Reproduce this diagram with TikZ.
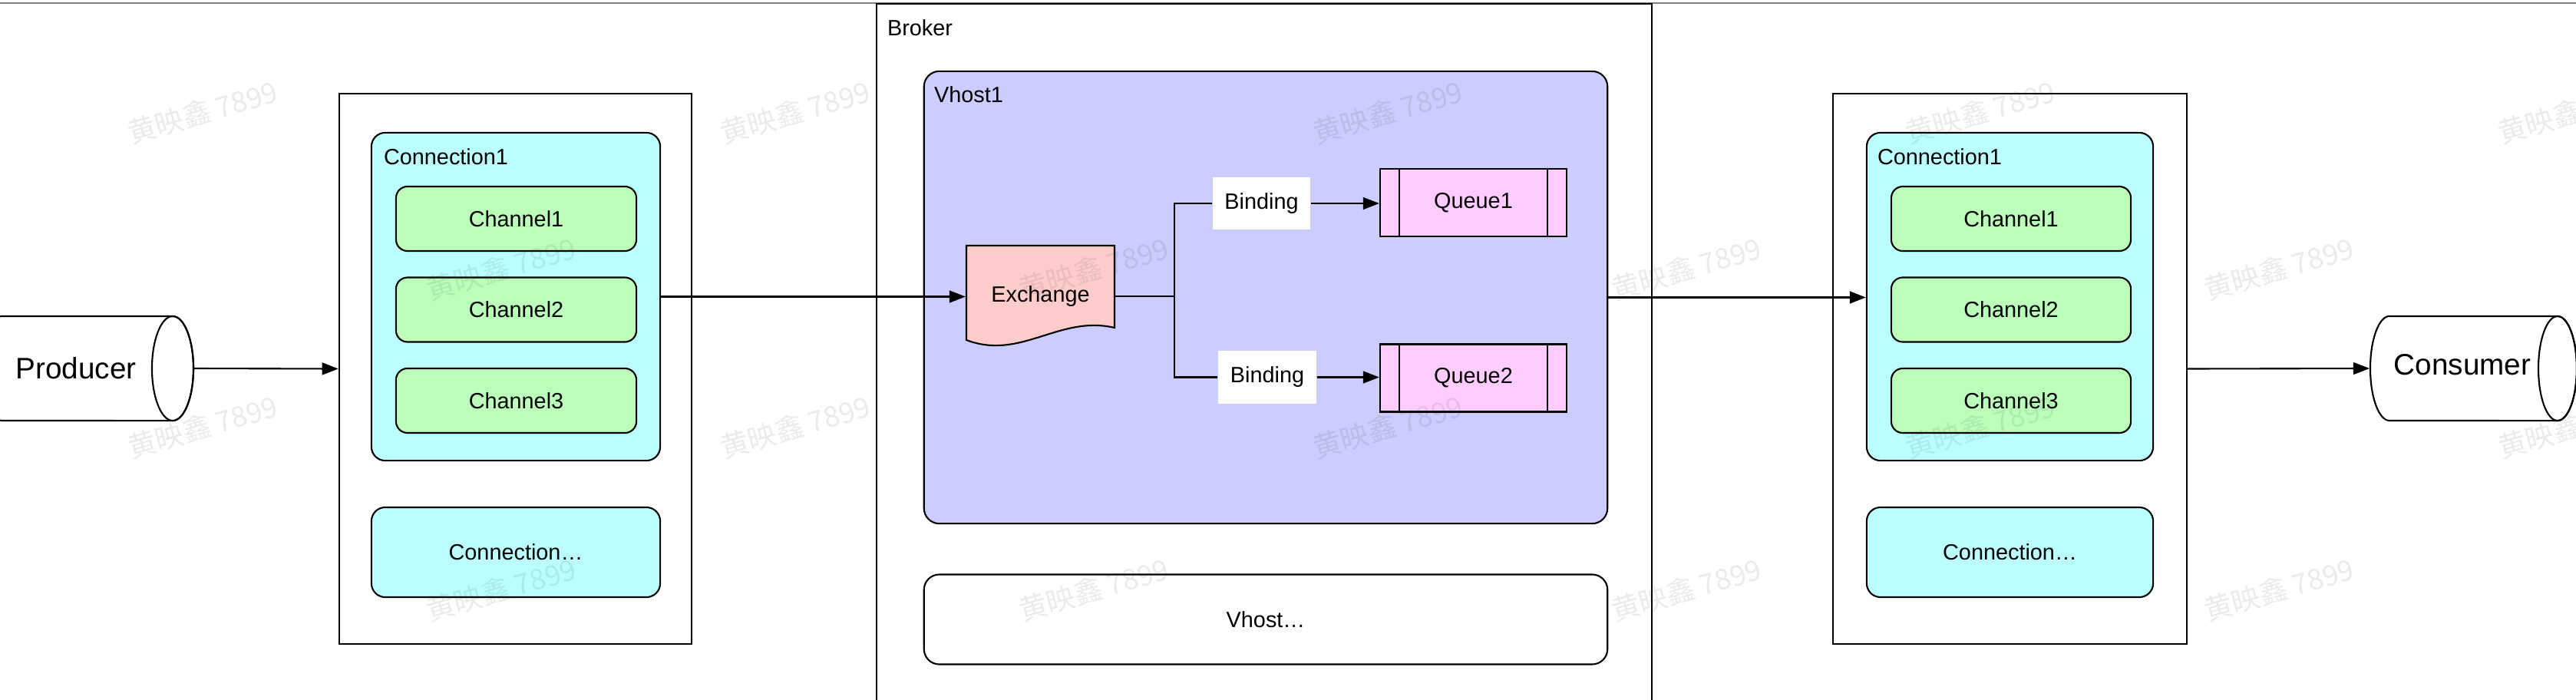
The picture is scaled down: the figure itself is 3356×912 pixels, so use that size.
\documentclass[tikz,border=0pt]{standalone}
\usepackage{fontspec}
\setmainfont{Liberation Sans}
\newfontfamily\cjk{Noto Sans CJK SC}
\usepackage{xcolor}
\usepackage{tikz}
\usetikzlibrary{arrows.meta}

\definecolor{connfill}{RGB}{187,255,255}
\definecolor{chanfill}{RGB}{187,255,187}
\definecolor{vhostfill}{RGB}{204,204,255}
\definecolor{exchfill}{RGB}{255,204,204}
\definecolor{queuefill}{RGB}{255,204,255}

\begin{document}
\begin{tikzpicture}[x=0.01cm, y=-0.01cm, line width=0.6pt,
  >={Triangle[length=6pt,width=4.5pt]},
  font=\fontsize{8.2}{10}\selectfont,
  box/.style={draw, rectangle, inner sep=0pt},
  conn/.style={box, fill=connfill, rounded corners=0.18cm},
  chan/.style={box, fill=chanfill, rounded corners=0.15cm, minimum height=0.84cm},
  bind/.style={fill=white, inner sep=0pt, minimum width=1.27cm, minimum height=0.68cm},
  queuebox/.style={box, fill=queuefill, minimum width=2.43cm, minimum height=0.88cm,
    path picture={
      \draw ([xshift=0.25cm]path picture bounding box.north west) -- ([xshift=0.25cm]path picture bounding box.south west);
      \draw ([xshift=-0.25cm]path picture bounding box.north east) -- ([xshift=-0.25cm]path picture bounding box.south east);}},
  wmark/.style={font=\cjk\fontsize{10.5}{12}\selectfont, text=black, opacity=0.08, rotate=16}]

\useasboundingbox (0,0) rectangle (3356,912);
\draw [gray, line width=0.4pt] (0,4) -- (3356,4);

% producer
\draw [fill=white] (3,412) -- (225,412) arc [start angle=90, end angle=-90, x radius=0.27cm, y radius=0.68cm]
  -- (3,548) arc [start angle=270, end angle=90, x radius=0.27cm, y radius=0.68cm] -- cycle;
\draw (225,480) ellipse [x radius=0.27cm, y radius=0.68cm];
\node (producer) at (99,480) [font=\fontsize{11}{13}\selectfont] {Producer};
\coordinate (prodout) at (252,480);

% left side
\node (lhost) at (671.5,480.5) [box, minimum width=4.59cm, minimum height=7.17cm] {};
\node (lconn) at (672,386.5) [conn, minimum width=3.76cm, minimum height=4.27cm] {};
\node (lconnlabel) at (499,204) [anchor=west, inner sep=0pt] {Connection1};
\foreach \i in {1, 2, 3}
  { \node (lchan\i) at (672.5, {285+(\i-1)*118.5}) [chan, minimum width=3.13cm] {Channel\i}; }
\node (lconnx) at (672,719.5) [conn, minimum width=3.76cm, minimum height=1.17cm] {Connection…};

% broker
\node (broker) at (1647,467.5) [box, minimum width=10.1cm, minimum height=9.25cm] {};
\node (brokerlabel) at (1155,36) [anchor=west, inner sep=0pt] {Broker};
\node (vhost1) at (1649,387.5) [box, fill=vhostfill, rounded corners=0.2cm, minimum width=8.9cm, minimum height=5.89cm] {};
\node (vhostlabel) at (1216,123) [anchor=west, inner sep=0pt] {Vhost1};
\draw [fill=exchfill] (1259,320) -- (1452,320) -- (1452,427) .. controls (1380,410) and (1330,470) .. (1259,443) -- cycle;
\node (exch) at (1355.5,386) [inner sep=0pt, minimum width=1.93cm, minimum height=0.6cm] {Exchange};
\node (bind1) at (1643.5,265) [bind] {Binding};
\node (bind2) at (1651,491.5) [bind] {Binding};
\node (queue1) at (1919.5,264) [queuebox] {Queue1};
\node (queue2) at (1919.5,492.5) [queuebox] {Queue2};
\node (vhostx) at (1649,807) [box, fill=white, rounded corners=0.2cm, minimum width=8.9cm, minimum height=1.17cm] {Vhost…};

% right side
\node (rhost) at (2618.5,480.5) [box, minimum width=4.61cm, minimum height=7.17cm] {};
\node (rconn) at (2618.5,386.5) [conn, minimum width=3.73cm, minimum height=4.27cm] {};
\node (rconnlabel) at (2445,204) [anchor=west, inner sep=0pt] {Connection1};
\foreach \i in {1, 2, 3}
  { \node (rchan\i) at (2620, {285+(\i-1)*118.5}) [chan, minimum width=3.12cm] {Channel\i}; }
\node (rconnx) at (2618.5,719.5) [conn, minimum width=3.73cm, minimum height=1.17cm] {Connection…};

% consumer
\draw [fill=white] (3113,412) -- (3332,412) arc [start angle=90, end angle=-90, x radius=0.25cm, y radius=0.68cm]
  -- (3113,548) arc [start angle=270, end angle=90, x radius=0.25cm, y radius=0.68cm] -- cycle;
\draw (3332,480) ellipse [x radius=0.25cm, y radius=0.68cm];
\node (consumer) at (3208,475) [font=\fontsize{11}{13}\selectfont] {Consumer};
\coordinate (consin) at (3087,480);

% connectors
\draw [->] (prodout) -- (lhost.west);
\draw [->] (lconn.east) -- (lconn.east -| exch.west);
\draw (exch.east) -- (1530,386) coordinate (split);
\draw (split) |- (bind1.west);
\draw (split) |- (bind2.west);
\draw [->] (bind1.east) -- (bind1.east -| queue1.west);
\draw [->] (bind2.east) -- (bind2.east -| queue2.west);
\draw [->] (vhost1.east) -- (vhost1.east -| rconn.west);
\draw [->] (rhost.east) -- (consin);

% watermark
\foreach \y in {146, 556}
  { \foreach \k in {0, 1, 2, 3, 4}
    { \node (wma\y\k) at ({264+772*\k}, \y) [wmark] {黄映鑫 7899}; } }
\foreach \y in {350, 768}
  { \foreach \k in {0, 1, 2, 3}
    { \node (wmb\y\k) at ({653+772*\k}, \y) [wmark] {黄映鑫 7899}; } }
\end{tikzpicture}
\end{document}
